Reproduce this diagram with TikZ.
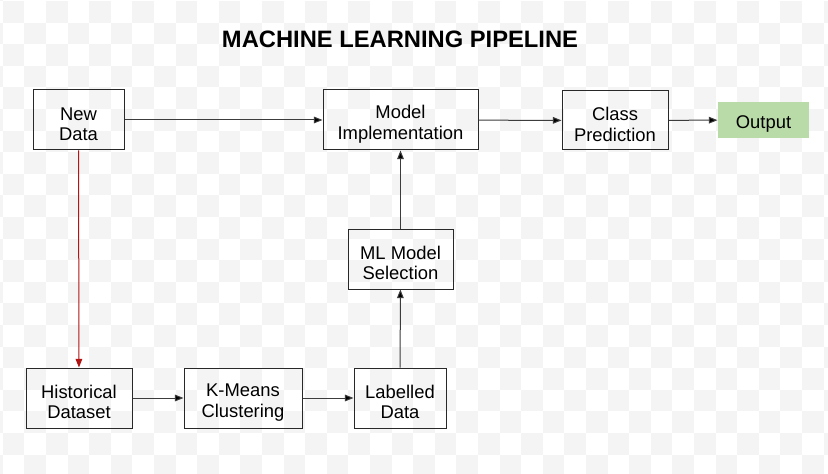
\documentclass[tikz,border=0pt]{standalone}
\usepackage{fontspec}
\setmainfont{Liberation Sans}
\usetikzlibrary{arrows.meta}

\definecolor{checker}{RGB}{244,244,244}
\definecolor{outgreen}{RGB}{185,219,167}
\definecolor{linegray}{RGB}{40,40,40}
\definecolor{flowgray}{RGB}{60,60,60}
\definecolor{histred}{RGB}{178,20,20}
\newcommand{\topstrut}{\rule{0pt}{16pt}}

\begin{document}
\begin{tikzpicture}[x=0.75pt, y=-0.75pt,
    stage/.style ={rectangle, draw=linegray, line width=0.75pt, align=center, inner sep=0pt,
                   minimum height=45pt, font=\fontsize{13.8}{15.5}\selectfont},
    flow/.style ={line width=0.75pt, draw=flowgray, -{Triangle[length=6.5pt,width=5pt,fill=black]}}]
   % checkered background
   \useasboundingbox (0,0) rectangle (828,474);
   \fill[white] (0,0) rectangle (828,474);
   \begin{scope}
   \clip (0,0) rectangle (828,474);
   \foreach \r in {0,...,21}
     \foreach \c in {-1,...,38} {
       \pgfmathparse{int(mod(\r+\c,2))}
       \ifnum\pgfmathresult=0
         \fill[checker] (2.7+21.6*\c,1+21.6*\r) rectangle ++(21.6,21.6);
       \fi
     }
   \fill[checker] (0,-21) rectangle ++(2.7,22);
   \end{scope}

   \node (title) at (400,39) {\fontsize{17.8}{20}\selectfont\bfseries MACHINE LEARNING PIPELINE};

   \node[stage, minimum width=68.25pt] (newdata) at (78.5,120) {\topstrut New\\Data};
   \node[stage, minimum width=116.25pt] (impl) at (400.5,120) {\topstrut Model\\Implementation};
   \node[stage, minimum width=79.5pt, minimum height=44.25pt] (pred) at (615,120.5) {\topstrut Class\\Prediction};
   \node[stage, draw=none, fill=outgreen, minimum width=68.25pt, minimum height=27pt] (output) at (763.5,120) {\topstrut Output};
   \node[stage, minimum width=78.75pt] (select) at (400.5,259) {\topstrut ML Model\\Selection};
   \node[stage, minimum width=79.5pt] (hist) at (79,398) {\topstrut Historical\\Dataset};
   \node[stage, minimum width=88.5pt] (kmeans) at (243,398) {\topstrut K-Means\\Clustering};
   \node[stage, minimum width=69pt] (labelled) at (400,398) {\topstrut Labelled\\Data};

   \draw[flow] (newdata) to (impl);
   \draw[flow] (impl) to (pred);
   \draw[flow] (pred) to (output);
   \draw[flow, draw=histred, -{Triangle[length=6.5pt,width=5pt,fill=histred]}] (newdata) to (hist);
   \draw[flow] (hist) to (kmeans);
   \draw[flow] (kmeans) to (labelled);
   \draw[flow] (labelled) to (select);
   \draw[flow] (select) to (impl);
 \end{tikzpicture}
\end{document}
